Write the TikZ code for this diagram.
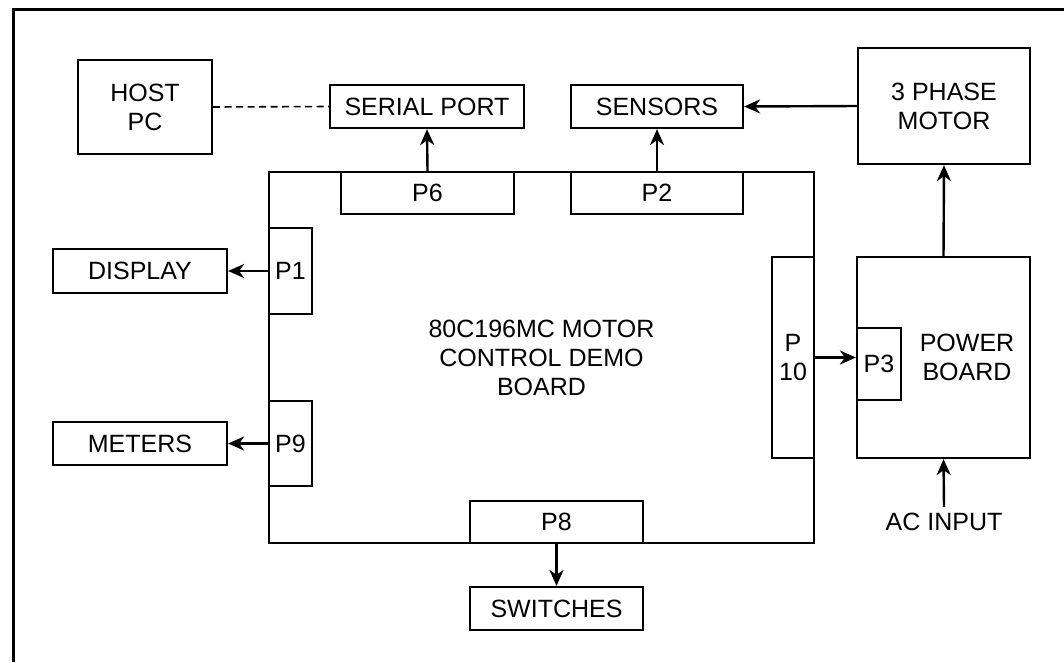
\documentclass[tikz,border=0pt]{standalone}
\usepackage{fontspec}
\setmainfont{Liberation Sans}
\usetikzlibrary{arrows.meta, positioning, calc}

\begin{document}
\begin{tikzpicture}[
  x=1pt, y=-1pt,
  every node/.style={font=\fontsize{25}{29}\selectfont, align=center, inner sep=0pt},
  unit/.style={draw, line width=2.2pt, fill=white},
  port/.style={unit},
  link/.style={line width=2.4pt, -{Stealth[length=16pt, width=14pt, inset=5pt]}},
  serial link/.style={line width=1.6pt, dash pattern=on 7pt off 4.5pt}
]
\useasboundingbox (0,0) rectangle (1064,662);
\draw[line width=3pt] (13,662) -- (13,9) -- (1064,9);

\node[unit, minimum width=134pt, minimum height=94pt] (host) at (145,107) {HOST\\PC};
\node[unit, minimum width=194pt, minimum height=43pt] (serial) at (427,106.5) {SERIAL PORT};
\node[unit, minimum width=172pt, minimum height=43pt] (sensors) at (657,106.5) {SENSORS};
\node[unit, minimum width=172pt, minimum height=116pt] (motor) at (944,106) {3 PHASE\\MOTOR};
\node[unit, minimum width=174pt, minimum height=44pt] (display) at (140,271) {DISPLAY};
\node[unit, minimum width=174pt, minimum height=43pt] (meters) at (140,443.5) {METERS};
\node[unit, minimum width=173pt, minimum height=43pt] (switches) at (556.5,608.5) {SWITCHES};

\node[unit, minimum width=545pt, minimum height=371pt] (board) at (541.5,357.5) {80C196MC MOTOR\\CONTROL DEMO\\BOARD};
\node[port, minimum width=173pt, minimum height=42pt] (p6) at (427.5,193) {P6};
\node[port, minimum width=172pt, minimum height=42pt] (p2) at (657,193) {P2};
\node[port, minimum width=43pt, minimum height=86pt] (p1) at (290.5,271) {P1};
\node[port, minimum width=43pt, minimum height=85pt] (p9) at (290.5,443.5) {P9};
\node[port, minimum width=173pt, minimum height=42pt] (p8) at (556.5,522) {P8};
\node[port, minimum width=42pt, minimum height=201pt] (p10) at (793,357.5) {P\\10};

\node[unit, minimum width=173pt, minimum height=201pt] (power) at (943.5,357.5) {};
\node (powertext) at (967,357.5) {POWER\\BOARD};
\node[port, minimum width=44pt, minimum height=72pt] (p3) at (879,364) {P3};
\node (acin) at (944,522) {AC INPUT};

\draw[serial link] (host.east) -- (serial.west);
\draw[link] (p6.north) -- (serial.south);
\draw[link] (p2.north) -- (sensors.south);
\draw[link] (motor.west) -- (sensors.east);
\draw[link] (power.north) -- (motor.south);
\draw[link] (p1.west) -- (display.east);
\draw[link] (p9.west) -- (meters.east);
\draw[link] (p8.south) -- (switches.north);
\draw[link] (p10.east) -- (p10.east -| p3.west);
\draw[link] (acin.north) ++(0,-6) -- (power.south);
\end{tikzpicture}
\end{document}
